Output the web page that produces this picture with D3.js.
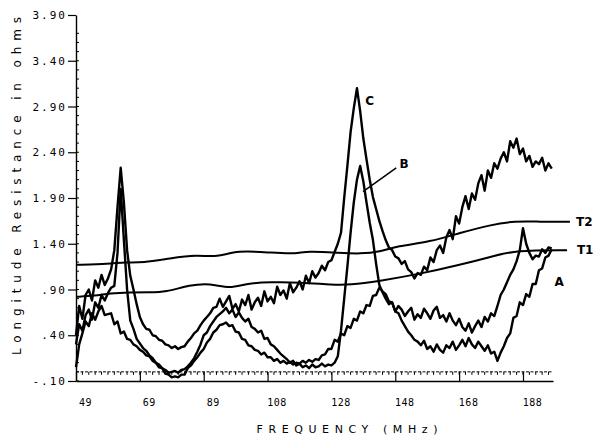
<!DOCTYPE html>
<html><head><meta charset="utf-8">
<script src="https://cdn.jsdelivr.net/npm/d3@7"></script>
<style>body{margin:0;background:#fff}svg{display:block}</style>
</head><body><svg id="c" width="604" height="438"></svg>
<script>
// ---- data ----
const freqs = [48,49,50,51,52,53,54,55,56,57,58,59,60,61,62,63,64,65,66,67,68,69,70,71,72,73,74,75,76,77,78,79,80,81,82,83,84,85,86,87,88,89,90,91,92,93,94,95,96,97,98,99,100,101,102,103,104,105,106,107,108,109,110,111,112,113,114,115,116,117,118,119,120,121,122,123,124,125,126,127,128,129,130,131,132,133,134,135,136,137,138,139,140,141,142,143,144,145,146,147,148,149,150,151,152,153,154,155,156,157,158,159,160,161,162,163,164,165,166,167,168,169,170,171,172,173,174,175,176,177,178,179,180,181,182,183,184,185,186,187,188,189,190,191,192,193,194,195,196,197];
const seriesC = [0.40,0.72,0.58,0.84,0.90,0.78,1.00,0.92,1.06,0.95,1.02,1.12,
 1.33,1.80,2.23,1.85,1.33,1.05,0.90,0.74,
 0.60,0.52,0.47,0.46,0.40,0.39,0.35,0.34,0.30,0.29,0.26,0.28,0.25,0.27,0.28,0.33,0.37,0.42,0.45,0.51,0.56,0.60,0.64,0.70,0.71,
 0.80,0.71,0.77,0.83,0.69,0.74,0.66,0.79,0.73,0.84,0.68,0.76,0.81,0.72,0.88,0.77,0.82,0.75,0.93,0.84,0.89,0.80,0.97,0.87,0.92,0.99,0.90,1.05,0.97,1.10,1.03,1.08,1.16,1.11,1.20,
 1.22,1.31,1.40,1.52,1.90,2.25,2.62,2.88,3.10,2.85,2.55,2.32,2.10,1.91,1.78,1.65,1.54,1.44,1.36,1.33,
 1.26,1.24,1.18,1.21,1.12,1.09,1.02,1.08,1.06,1.15,1.11,1.25,1.20,1.33,1.38,1.30,1.47,1.55,1.45,1.70,
 1.62,1.80,1.92,1.78,1.95,1.88,2.06,2.15,1.98,2.20,2.12,2.28,2.22,2.33,2.40,2.30,2.52,2.45,2.55,2.38,
 2.44,2.30,2.36,2.24,2.30,2.27,2.34,2.20,2.28,2.22];
const seriesB = [0.30,0.52,0.45,0.62,0.68,0.57,0.76,0.70,0.84,0.78,0.86,0.92,
 0.94,1.30,2.00,1.44,0.90,0.56,
 0.47,0.36,0.31,0.26,0.23,0.18,0.15,0.10,0.08,0.04,0.02,-0.01,0.00,0.01,-0.01,0.02,0.03,0.06,0.10,0.15,0.22,0.30,
 0.40,0.43,0.50,0.55,0.60,0.63,0.66,0.70,0.64,0.68,0.60,0.65,0.59,0.55,0.58,0.49,0.47,0.43,0.45,0.36,0.37,0.30,0.28,0.24,0.20,0.17,0.14,0.10,0.12,0.07,0.09,0.05,0.07,0.04,0.08,0.05,0.06,0.09,0.06,0.08,0.07,
 0.10,0.17,0.45,0.80,1.15,1.52,1.85,2.10,2.25,2.08,1.85,1.63,1.44,1.18,0.95,
 0.87,0.80,0.74,0.76,0.66,0.72,0.68,0.61,0.66,0.70,0.57,0.63,0.59,0.69,0.64,0.58,0.67,0.71,0.59,0.62,0.55,0.64,0.56,0.51,0.58,0.49,0.45,0.53,0.43,0.50,0.56,0.49,0.60,0.55,0.64,0.61,0.72,0.84,0.90,0.98,1.06,1.12,1.21,1.33,
 1.57,1.40,1.30,1.23,1.27,1.26,1.34,1.30,1.36,1.35];
const seriesA = [0.05,0.30,0.42,0.55,0.50,0.64,0.57,0.66,0.72,0.62,0.63,0.64,
 0.52,0.55,0.42,0.44,
 0.36,0.35,0.30,0.28,0.24,0.22,0.18,0.17,0.12,0.10,0.05,0.04,-0.02,-0.03,-0.06,-0.05,-0.06,-0.03,-0.03,0.04,0.07,0.12,0.16,0.21,0.25,0.32,0.36,0.43,0.46,0.51,0.52,0.54,
 0.50,0.51,0.44,0.43,0.36,0.35,0.29,0.28,0.24,0.23,0.19,0.21,0.16,0.16,0.12,0.14,0.10,0.12,0.09,0.11,0.08,0.10,0.09,0.12,0.10,0.13,0.11,0.14,0.13,0.18,0.19,0.25,
 0.25,0.35,0.33,0.42,0.40,0.50,0.48,0.58,0.56,0.66,0.64,0.73,0.72,0.83,0.84,0.92,0.88,0.85,0.77,0.76,
 0.66,0.64,0.56,0.50,0.44,0.40,0.35,0.33,0.29,0.34,0.25,0.28,0.22,0.30,0.24,0.21,0.29,0.26,0.33,0.24,0.29,0.35,0.28,0.37,0.30,0.26,0.33,0.28,0.23,0.29,0.20,0.22,0.12,0.21,0.28,0.37,
 0.42,0.59,0.61,0.76,0.73,0.85,0.82,0.96,0.96,1.11,1.13,1.25,1.27,1.34];
const t2Freq = [48,58.6,63.3,69.0,77.4,85.9,92.2,98.4,109.7,117.2,120.3,130.7,137.0,143.2,148.5,158.9,168.3,177.7,185.5,193.3,202.7];
const t2Val  = [1.17,1.18,1.20,1.19,1.24,1.28,1.25,1.33,1.30,1.29,1.32,1.30,1.29,1.31,1.375,1.42,1.52,1.605,1.65,1.64,1.64];
const t1Freq = [48,54,58.6,64.9,71.2,75.9,83.7,90.0,96.2,101.6,108.8,118.2,128.5,133.8,142.6,155.7,168.3,177.7,185.5,201.8];
const t1Val  = [0.82,0.83,0.86,0.87,0.87,0.87,0.95,0.97,0.905,0.97,0.98,0.98,0.95,0.95,0.99,1.07,1.17,1.255,1.33,1.33];
const xTickValues = [48,68,88,108,128,148,168,188];
const xTickLabels = ["49","69","89","108","128","148","168","188"];
const yTickValues = [-0.1,0.4,0.9,1.4,1.9,2.4,2.9,3.4,3.9];
const yTickLabels = ["-.10",".40",".90","1.40","1.90","2.40","2.90","3.40","3.90"];
const curveLabels = [
  {text:"C",  f:138.6, v:2.96},
  {text:"B",  f:149.3, v:2.27},
  {text:"A",  f:197.9, v:0.98},
  {text:"T2", f:204.6, v:1.64},
  {text:"T1", f:204.9, v:1.33}
];
const leader = {f1:137.9, v1:1.97, f2:148.3, v2:2.23};

// ---- chart ----
const svg = d3.select("#c");
const x = d3.scaleLinear().domain([48,197.4]).range([76,553]);
const y = d3.scaleLinear().domain([-0.1,3.9]).range([381,15]);
const mono = "'DejaVu Sans Mono', monospace";

// zero reference line (dotted)
svg.append("line").attr("x1",x(48)).attr("x2",x(197.4)).attr("y1",y(0)).attr("y2",y(0))
  .attr("stroke","#000").attr("stroke-width",1).attr("stroke-dasharray","3,1.5");
// x minor ticks
svg.append("g").selectAll("line").data(d3.range(50,197,2)).join("line")
  .attr("x1",d=>x(d)).attr("x2",d=>x(d)).attr("y1",y(0)).attr("y2",y(0)+3)
  .attr("stroke","#000").attr("stroke-width",1);
// y minor ticks
svg.append("g").selectAll("line").data(d3.range(0,39).map(i=>-0.1+i*0.1)).join("line")
  .attr("x1",x(48)).attr("x2",x(48)+3).attr("y1",d=>y(d)).attr("y2",d=>y(d))
  .attr("stroke","#000").attr("stroke-width",1);

const xAxis = svg.append("g").attr("transform",`translate(0,${y(-0.1)})`)
  .call(d3.axisBottom(x).tickValues(xTickValues).tickFormat((d,i)=>xTickLabels[i])
    .tickSizeInner(-9).tickSizeOuter(0).tickPadding(18));
xAxis.select(".domain").attr("stroke-width",1.6);
xAxis.selectAll(".tick line").attr("stroke-width",1.2);
xAxis.selectAll("text").attr("dx",9).attr("font-family",mono).attr("font-size",10)
  .attr("letter-spacing",0.5).attr("fill","#000");

const yAxis = svg.append("g").attr("transform",`translate(${x(48)},0)`)
  .call(d3.axisLeft(y).tickValues(yTickValues).tickFormat((d,i)=>yTickLabels[i])
    .tickSizeInner(8).tickSizeOuter(0).tickPadding(1));
yAxis.select(".domain").attr("stroke-width",1.4);
yAxis.selectAll(".tick line").attr("stroke-width",1.2);
yAxis.selectAll("text").attr("font-family",mono).attr("font-size",11)
  .attr("letter-spacing",2).attr("fill","#000");

// titles
svg.append("text").attr("transform","translate(21,186) rotate(-90)")
  .attr("text-anchor","middle").attr("font-family","'DejaVu Sans', sans-serif")
  .attr("font-size",12).attr("textLength",338).attr("lengthAdjust","spacing")
  .text("Longitude Resistance in ohms");
svg.append("text").attr("x",347).attr("y",433).attr("text-anchor","middle")
  .attr("font-family","'DejaVu Sans', sans-serif").attr("font-size",11)
  .attr("textLength",181).attr("lengthAdjust","spacing").text("FREQUENCY (MHz)");

// smooth T lines
const smooth = d3.line().x(d=>x(d[0])).y(d=>y(d[1])).curve(d3.curveBasis);
[[t2Freq,t2Val],[t1Freq,t1Val]].forEach(([fs,vs])=>{
  svg.append("path").datum(fs.map((f,i)=>[f,vs[i]])).attr("d",smooth)
    .attr("fill","none").attr("stroke","#000").attr("stroke-width",2);
});
// noisy curves
const rough = d3.line().x(d=>x(d[0])).y(d=>y(d[1]));
[seriesA,seriesB,seriesC].forEach(vs=>{
  svg.append("path").datum(freqs.map((f,i)=>[f,vs[i]])).attr("d",rough)
    .attr("fill","none").attr("stroke","#000").attr("stroke-width",2.4)
    .attr("stroke-linejoin","round");
});
// leader for B
svg.append("line").attr("x1",x(leader.f1)).attr("y1",y(leader.v1))
  .attr("x2",x(leader.f2)).attr("y2",y(leader.v2)).attr("stroke","#000").attr("stroke-width",1.5);
// curve labels
svg.append("g").selectAll("text").data(curveLabels).join("text")
  .attr("x",d=>x(d.f)).attr("y",d=>y(d.v)).attr("dy","0.35em")
  .attr("font-family","'DejaVu Sans', sans-serif").attr("font-weight","bold")
  .attr("font-size",12).text(d=>d.text);
</script></body></html>
